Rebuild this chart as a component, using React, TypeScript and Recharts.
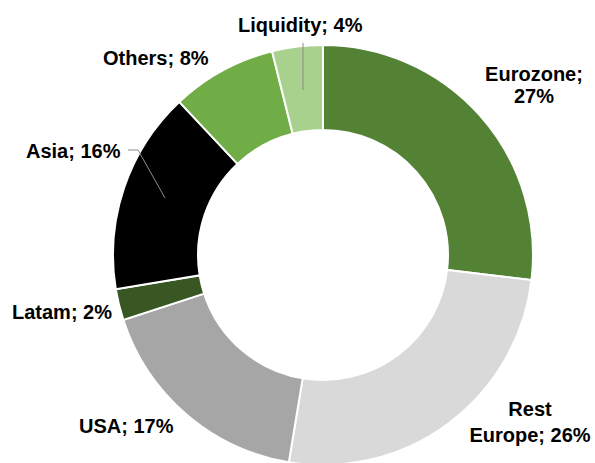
import React from "react";
import { PieChart, Pie, Cell } from "recharts";

const regions = ["Eurozone", "Rest Europe", "USA", "Latam", "Asia", "Others", "Liquidity"];
const shares = [26.9, 25.7, 17.4, 2.4, 15.6, 8.1, 3.9];
const colors = ["#548235", "#d9d9d9", "#a6a6a6", "#385723", "#000000", "#70ad47", "#a9d18e"];

const data = regions.map((name, i) => ({ name, value: shares[i] }));

// label layout relative to pie centre: lines of text, anchor, offsets
type LabelLayout = {
  lines: (name: string, pct: string) => string[];
  x: number;
  y: number;
  lineGap: number;
  anchor: "start" | "middle" | "end";
  leader?: number[][];
};

const CX = 323;
const CY = 255;

const layouts: Record<string, LabelLayout> = {
  Eurozone: { lines: (n, p) => [n + ";", p], x: 211, y: -174, lineGap: 22, anchor: "middle" },
  "Rest Europe": { lines: (n, p) => ["Rest", "Europe; " + p], x: 207, y: 161, lineGap: 26, anchor: "middle" },
  USA: { lines: (n, p) => [n + "; " + p], x: -244, y: 178, lineGap: 0, anchor: "start" },
  Latam: { lines: (n, p) => [n + "; " + p], x: -311, y: 64, lineGap: 0, anchor: "start" },
  Asia: {
    lines: (n, p) => [n + "; " + p],
    x: -297,
    y: -97,
    lineGap: 0,
    anchor: "start",
    leader: [[-195, -105], [-185, -105], [-158, -57]],
  },
  Others: { lines: (n, p) => [n + "; " + p], x: -220, y: -190, lineGap: 0, anchor: "start" },
  Liquidity: {
    lines: (n, p) => [n + "; " + p],
    x: -85,
    y: -223,
    lineGap: 0,
    anchor: "start",
    leader: [[-20, -212], [-20, -165]],
  },
};

const renderLabel = (props: any) => {
  const { cx, cy, index } = props;
  const entry = data[index];
  const lay = layouts[entry.name];
  const pct = Math.round(entry.value) + "%";
  const lines = lay.lines(entry.name, pct);
  return (
    <g key={"lab-" + index}>
      {lay.leader && (
        <polyline
          points={lay.leader.map(([dx, dy]) => `${cx + dx},${cy + dy}`).join(" ")}
          fill="none"
          stroke="#8c8c8c"
          strokeWidth={1}
        />
      )}
      {lines.map((t, li) => (
        <text
          key={li}
          x={cx + lay.x}
          y={cy + lay.y + li * lay.lineGap}
          textAnchor={lay.anchor}
          fill="#000000"
          style={{ fontFamily: "'Liberation Sans', Arial, sans-serif", fontWeight: 700, fontSize: 20 }}
        >
          {t}
        </text>
      ))}
    </g>
  );
};

export default function App() {
  return (
    <div style={{ position: "absolute", left: 0, top: 0, width: 595, height: 463, background: "#fff" }}>
      <PieChart width={595} height={463} margin={{ top: 0, right: 0, bottom: 0, left: 0 }}>
        <Pie
          data={data}
          dataKey="value"
          nameKey="name"
          cx={CX}
          cy={CY}
          innerRadius={125}
          outerRadius={210}
          startAngle={90}
          endAngle={-270}
          stroke="#ffffff"
          strokeWidth={2}
          label={renderLabel}
          labelLine={false}
          isAnimationActive={false}
        >
          {data.map((d, i) => (
            <Cell key={d.name} fill={colors[i]} />
          ))}
        </Pie>
      </PieChart>
    </div>
  );
}
